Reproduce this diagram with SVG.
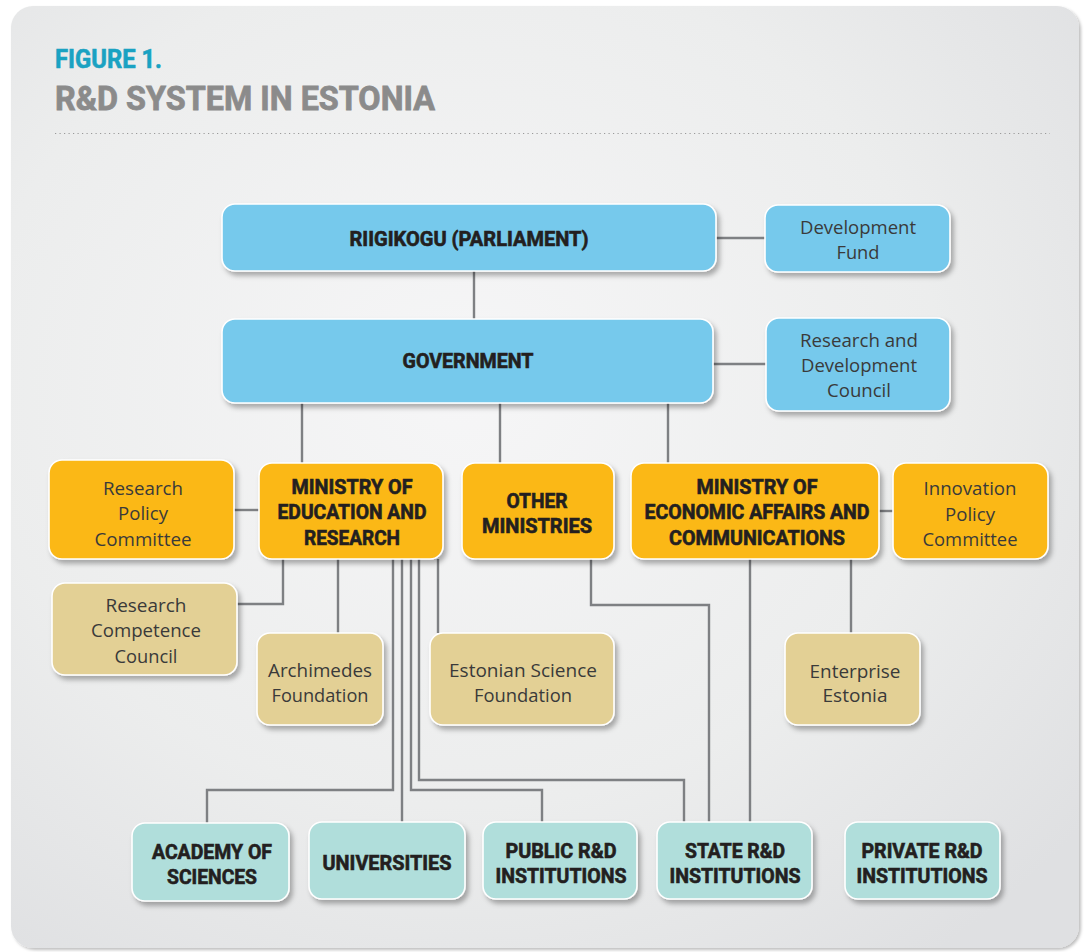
<svg xmlns="http://www.w3.org/2000/svg" width="1090" height="952" viewBox="0 0 1090 952">
  <style>
    .panel { fill: url(#panelFill); }
    .box { stroke: #ffffff; stroke-width: 1.6; filter: url(#shadow); }
    .blue { fill: #76c9ec; }
    .orange { fill: #fbb817; }
    .tan { fill: #e3d095; }
    .teal { fill: #b0dedb; }
    .bold { font-family: Roboto, "Liberation Sans", sans-serif; font-weight: 700; font-size: 20px; fill: #231f20; stroke: #231f20; stroke-width: 0.6; text-anchor: middle; }
    .reg { font-family: "Open Sans", "Noto Sans", sans-serif; font-weight: 400; font-size: 19px; fill: #3a3a3a; text-anchor: middle; }
    .link { fill: none; stroke: #7e8083; stroke-width: 2.4; }
    .fig { font-family: Roboto, "Liberation Sans", sans-serif; font-weight: 700; font-size: 25px; fill: #1aa2c2; stroke: #1aa2c2; stroke-width: 0.6; }
    .title { font-family: Roboto, "Liberation Sans", sans-serif; font-weight: 700; font-size: 34px; fill: #8b8b8b; stroke: #8b8b8b; stroke-width: 0.8; }
  </style>
  <defs>
    <radialGradient id="panelFill" cx="0.42" cy="0.4" r="0.75">
      <stop offset="0" stop-color="#f6f6f7"/>
      <stop offset="0.6" stop-color="#eceded"/>
      <stop offset="1" stop-color="#dfe0e2"/>
    </radialGradient>
    <filter id="shadow" x="-10%" y="-10%" width="130%" height="140%">
      <feDropShadow dx="3" dy="4" stdDeviation="2.5" flood-color="#000000" flood-opacity="0.3"/>
    </filter>
    <filter id="panelShadow" x="-5%" y="-5%" width="110%" height="110%">
      <feDropShadow dx="2" dy="2" stdDeviation="1.5" flood-color="#000000" flood-opacity="0.25"/>
    </filter>
  </defs>

  <!-- page -->
  <rect x="0" y="0" width="1090" height="952" fill="#ffffff"/>
  <rect class="panel" x="11" y="6" width="1068" height="942" rx="22" filter="url(#panelShadow)"/>

  <!-- heading -->
  <text class="fig" x="55" y="68" textLength="107" lengthAdjust="spacingAndGlyphs">FIGURE 1.</text>
  <text class="title" x="55" y="110" textLength="380" lengthAdjust="spacingAndGlyphs">R&amp;D SYSTEM IN ESTONIA</text>
  <line x1="55" y1="133.5" x2="1050" y2="133.5" stroke="#9a9a9a" stroke-width="1.2" stroke-dasharray="1.2 3.3"/>

  <!-- connectors -->
  <g id="connectors">
    <path class="link" d="M474 271 V319"/>
    <path class="link" d="M716 238 H765"/>
    <path class="link" d="M713 364 H766"/>
    <path class="link" d="M302 403 V463"/>
    <path class="link" d="M500 403 V463"/>
    <path class="link" d="M668 403 V463"/>
    <path class="link" d="M234 510 H259"/>
    <path class="link" d="M879 511 H893"/>
    <path class="link" d="M283 559 V604 H237"/>
    <path class="link" d="M338 559 V633"/>
    <path class="link" d="M438 559 V633"/>
    <path class="link" d="M393 559 V790 H207 V823"/>
    <path class="link" d="M402 559 V822"/>
    <path class="link" d="M411 559 V790 H542 V822"/>
    <path class="link" d="M419 559 V780 H684 V822"/>
    <path class="link" d="M591 559 V605 H709 V822"/>
    <path class="link" d="M750 559 V822"/>
    <path class="link" d="M851 559 V633"/>
  </g>

  <!-- top level -->
  <g id="riigikogu">
    <rect class="box blue" x="222" y="204" width="494" height="67" rx="13"/>
    <text class="bold" x="469" y="246" textLength="239" lengthAdjust="spacingAndGlyphs">RIIGIKOGU (PARLIAMENT)</text>
  </g>
  <g id="development-fund">
    <rect class="box blue" x="765" y="205" width="185" height="67" rx="13"/>
    <text class="reg" x="858" y="234" textLength="116" lengthAdjust="spacingAndGlyphs">Development</text>
    <text class="reg" x="858" y="259" textLength="43" lengthAdjust="spacingAndGlyphs">Fund</text>
  </g>
  <g id="government">
    <rect class="box blue" x="222" y="319" width="491" height="84" rx="13"/>
    <text class="bold" x="468" y="368" textLength="131" lengthAdjust="spacingAndGlyphs">GOVERNMENT</text>
  </g>
  <g id="rd-council">
    <rect class="box blue" x="766" y="318" width="184" height="93" rx="13"/>
    <text class="reg" x="859" y="347" textLength="118" lengthAdjust="spacingAndGlyphs">Research and</text>
    <text class="reg" x="859" y="372" textLength="116" lengthAdjust="spacingAndGlyphs">Development</text>
    <text class="reg" x="859" y="397" textLength="64" lengthAdjust="spacingAndGlyphs">Council</text>
  </g>

  <!-- ministries -->
  <g id="research-policy-committee">
    <rect class="box orange" x="49" y="460" width="185" height="99" rx="13"/>
    <text class="reg" x="143" y="495" textLength="80" lengthAdjust="spacingAndGlyphs">Research</text>
    <text class="reg" x="143" y="520" textLength="50" lengthAdjust="spacingAndGlyphs">Policy</text>
    <text class="reg" x="143" y="546" textLength="97" lengthAdjust="spacingAndGlyphs">Committee</text>
  </g>
  <g id="ministry-education">
    <rect class="box orange" x="259" y="463" width="184" height="96" rx="13"/>
    <text class="bold" x="352" y="494" textLength="121" lengthAdjust="spacingAndGlyphs">MINISTRY OF</text>
    <text class="bold" x="352" y="519" textLength="149" lengthAdjust="spacingAndGlyphs">EDUCATION AND</text>
    <text class="bold" x="352" y="545" textLength="96" lengthAdjust="spacingAndGlyphs">RESEARCH</text>
  </g>
  <g id="other-ministries">
    <rect class="box orange" x="462" y="463" width="152" height="96" rx="13"/>
    <text class="bold" x="537" y="508" textLength="61" lengthAdjust="spacingAndGlyphs">OTHER</text>
    <text class="bold" x="537" y="533" textLength="110" lengthAdjust="spacingAndGlyphs">MINISTRIES</text>
  </g>
  <g id="ministry-economic">
    <rect class="box orange" x="631" y="463" width="248" height="96" rx="13"/>
    <text class="bold" x="757" y="494" textLength="121" lengthAdjust="spacingAndGlyphs">MINISTRY OF</text>
    <text class="bold" x="757" y="519" textLength="225" lengthAdjust="spacingAndGlyphs">ECONOMIC AFFAIRS AND</text>
    <text class="bold" x="757" y="545" textLength="176" lengthAdjust="spacingAndGlyphs">COMMUNICATIONS</text>
  </g>
  <g id="innovation-policy-committee">
    <rect class="box orange" x="893" y="463" width="155" height="96" rx="13"/>
    <text class="reg" x="970" y="495" textLength="93" lengthAdjust="spacingAndGlyphs">Innovation</text>
    <text class="reg" x="970" y="521" textLength="50" lengthAdjust="spacingAndGlyphs">Policy</text>
    <text class="reg" x="970" y="546" textLength="95" lengthAdjust="spacingAndGlyphs">Committee</text>
  </g>

  <!-- agencies -->
  <g id="research-competence-council">
    <rect class="box tan" x="52" y="583" width="185" height="92" rx="13"/>
    <text class="reg" x="146" y="612" textLength="81" lengthAdjust="spacingAndGlyphs">Research</text>
    <text class="reg" x="146" y="637" textLength="110" lengthAdjust="spacingAndGlyphs">Competence</text>
    <text class="reg" x="146" y="663" textLength="63" lengthAdjust="spacingAndGlyphs">Council</text>
  </g>
  <g id="archimedes-foundation">
    <rect class="box tan" x="257" y="633" width="126" height="92" rx="13"/>
    <text class="reg" x="320" y="677" textLength="104" lengthAdjust="spacingAndGlyphs">Archimedes</text>
    <text class="reg" x="320" y="702" textLength="97" lengthAdjust="spacingAndGlyphs">Foundation</text>
  </g>
  <g id="estonian-science-foundation">
    <rect class="box tan" x="430" y="633" width="184" height="92" rx="13"/>
    <text class="reg" x="523" y="677" textLength="148" lengthAdjust="spacingAndGlyphs">Estonian Science</text>
    <text class="reg" x="523" y="702" textLength="98" lengthAdjust="spacingAndGlyphs">Foundation</text>
  </g>
  <g id="enterprise-estonia">
    <rect class="box tan" x="785" y="633" width="135" height="92" rx="13"/>
    <text class="reg" x="855" y="678" textLength="91" lengthAdjust="spacingAndGlyphs">Enterprise</text>
    <text class="reg" x="855" y="702" textLength="65" lengthAdjust="spacingAndGlyphs">Estonia</text>
  </g>

  <!-- performers -->
  <g id="academy-of-sciences">
    <rect class="box teal" x="132" y="823" width="157" height="78" rx="13"/>
    <text class="bold" x="212" y="859" textLength="120" lengthAdjust="spacingAndGlyphs">ACADEMY OF</text>
    <text class="bold" x="212" y="884" textLength="90" lengthAdjust="spacingAndGlyphs">SCIENCES</text>
  </g>
  <g id="universities">
    <rect class="box teal" x="309" y="822" width="156" height="77" rx="13"/>
    <text class="bold" x="387" y="870" textLength="129" lengthAdjust="spacingAndGlyphs">UNIVERSITIES</text>
  </g>
  <g id="public-institutions">
    <rect class="box teal" x="483" y="822" width="154" height="77" rx="13"/>
    <text class="bold" x="561" y="858" textLength="111" lengthAdjust="spacingAndGlyphs">PUBLIC R&amp;D</text>
    <text class="bold" x="561" y="883" textLength="131" lengthAdjust="spacingAndGlyphs">INSTITUTIONS</text>
  </g>
  <g id="state-institutions">
    <rect class="box teal" x="657" y="822" width="155" height="77" rx="13"/>
    <text class="bold" x="735" y="858" textLength="100" lengthAdjust="spacingAndGlyphs">STATE R&amp;D</text>
    <text class="bold" x="735" y="883" textLength="131" lengthAdjust="spacingAndGlyphs">INSTITUTIONS</text>
  </g>
  <g id="private-institutions">
    <rect class="box teal" x="845" y="822" width="155" height="77" rx="13"/>
    <text class="bold" x="922" y="858" textLength="121" lengthAdjust="spacingAndGlyphs">PRIVATE R&amp;D</text>
    <text class="bold" x="922" y="883" textLength="131" lengthAdjust="spacingAndGlyphs">INSTITUTIONS</text>
  </g>
</svg>
